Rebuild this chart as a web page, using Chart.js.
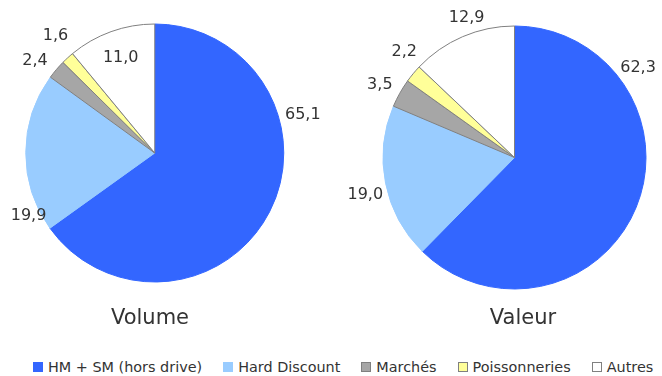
<!DOCTYPE html>
<html>
<head>
<meta charset="utf-8">
<script src="https://cdn.jsdelivr.net/npm/chart.js@4.4.1/dist/chart.umd.min.js"></script>
<style>
    body { margin: 0; width: 662px; height: 376px; overflow: hidden; background: #fff; position: relative; font-family: "DejaVu Sans", sans-serif; }
    .pie { position: absolute; top: 0; height: 340px; }
    .title { position: absolute; top: 305px; width: 200px; text-align: center; font-size: 21px; color: #333; }
    #legend { position: absolute; left: 33px; top: 359px; display: flex; font-size: 14.4px; color: #333; white-space: nowrap; }
    #legend .item { display: flex; align-items: center; margin-right: 21px; }
    #legend i { display: inline-block; width: 10px; height: 10px; box-sizing: border-box; border: 1px solid; margin-right: 5px; }
</style>
</head>
<body>
<div class="pie" style="left:0;width:330px"><canvas id="volumeChart"></canvas></div>
<div class="pie" style="left:331px;width:331px"><canvas id="valeurChart"></canvas></div>
<div class="title" style="left:50px">Volume</div>
<div class="title" style="left:423px">Valeur</div>
<div id="legend"></div>

<script>
// donnees
const categories = ["HM + SM (hors drive)", "Hard Discount", "Marchés", "Poissonneries", "Autres"];
const volumeValues = [65.1, 19.9, 2.4, 1.6, 11.0];
const valeurValues = [62.3, 19.0, 3.5, 2.2, 12.9];

// couleurs
const sliceColors = ["#3366FF", "#99CCFF", "#A6A6A6", "#FFFF99", "#FFFFFF"];
const sliceBorders = ["#3366FF", "#99CCFF", "#808080", "#808080", "#808080"];

// position des etiquettes : [angle en degres, facteur du rayon]
const volumeLabelPos = [[-14.4, 1.185], [153.5, 1.093], [-142.5, 1.17], [-130.3, 1.19], [-109.7, 0.783]];
const valeurLabelPos = [[-35.9, 1.16], [165.9, 1.17], [-151.7, 1.163], [-136.1, 1.163], [-108.9, 1.125]];

function fmt(v) {
    return v.toFixed(1).replace(".", ",");
}

// -----------------------------
// ETIQUETTES DES PARTS
// -----------------------------
const sliceLabels = {
    id: "sliceLabels",
    afterDatasetsDraw(chart, args, opts) {
        const ctx = chart.ctx;
        const meta = chart.getDatasetMeta(0);
        const values = chart.data.datasets[0].data;
        ctx.save();
        ctx.font = '16px "DejaVu Sans"';
        ctx.fillStyle = "#333";
        ctx.textAlign = "center";
        ctx.textBaseline = "middle";
        meta.data.forEach((arc, i) => {
            const [deg, f] = opts.place[i];
            const a = deg * Math.PI / 180;
            const r = arc.outerRadius * f;
            ctx.fillText(fmt(values[i]), arc.x + Math.cos(a) * r, arc.y + Math.sin(a) * r);
        });
        ctx.restore();
    }
};

function drawPie(canvasId, values, place, padding) {
    return new Chart(document.getElementById(canvasId), {
        type: "pie",
        data: {
            labels: categories,
            datasets: [{
                data: values,
                backgroundColor: sliceColors,
                borderColor: sliceBorders,
                borderWidth: 1,
                hoverOffset: 0
            }]
        },
        options: {
            responsive: true,
            maintainAspectRatio: false,
            animation: false,
            layout: { padding: padding },
            plugins: {
                legend: { display: false },
                tooltip: { enabled: false },
                sliceLabels: { place: place }
            }
        },
        plugins: [sliceLabels]
    });
}

const volumeChart = drawPie("volumeChart", volumeValues, volumeLabelPos, { left: 25, top: 23.5, right: 45.5, bottom: 57.5 });
drawPie("valeurChart", valeurValues, valeurLabelPos, { left: 51.5, top: 25.5, right: 15.5, bottom: 50.5 });

// -----------------------------
// LEGENDE HTML
// -----------------------------
const legendEl = document.getElementById("legend");
const items = volumeChart.options.plugins.legend.labels.generateLabels(volumeChart);
items.forEach(item => {
    legendEl.innerHTML += `<span class="item"><i style="background:${item.fillStyle};border-color:${item.strokeStyle}"></i>${item.text}</span>`;
});
</script>
</body>
</html>
